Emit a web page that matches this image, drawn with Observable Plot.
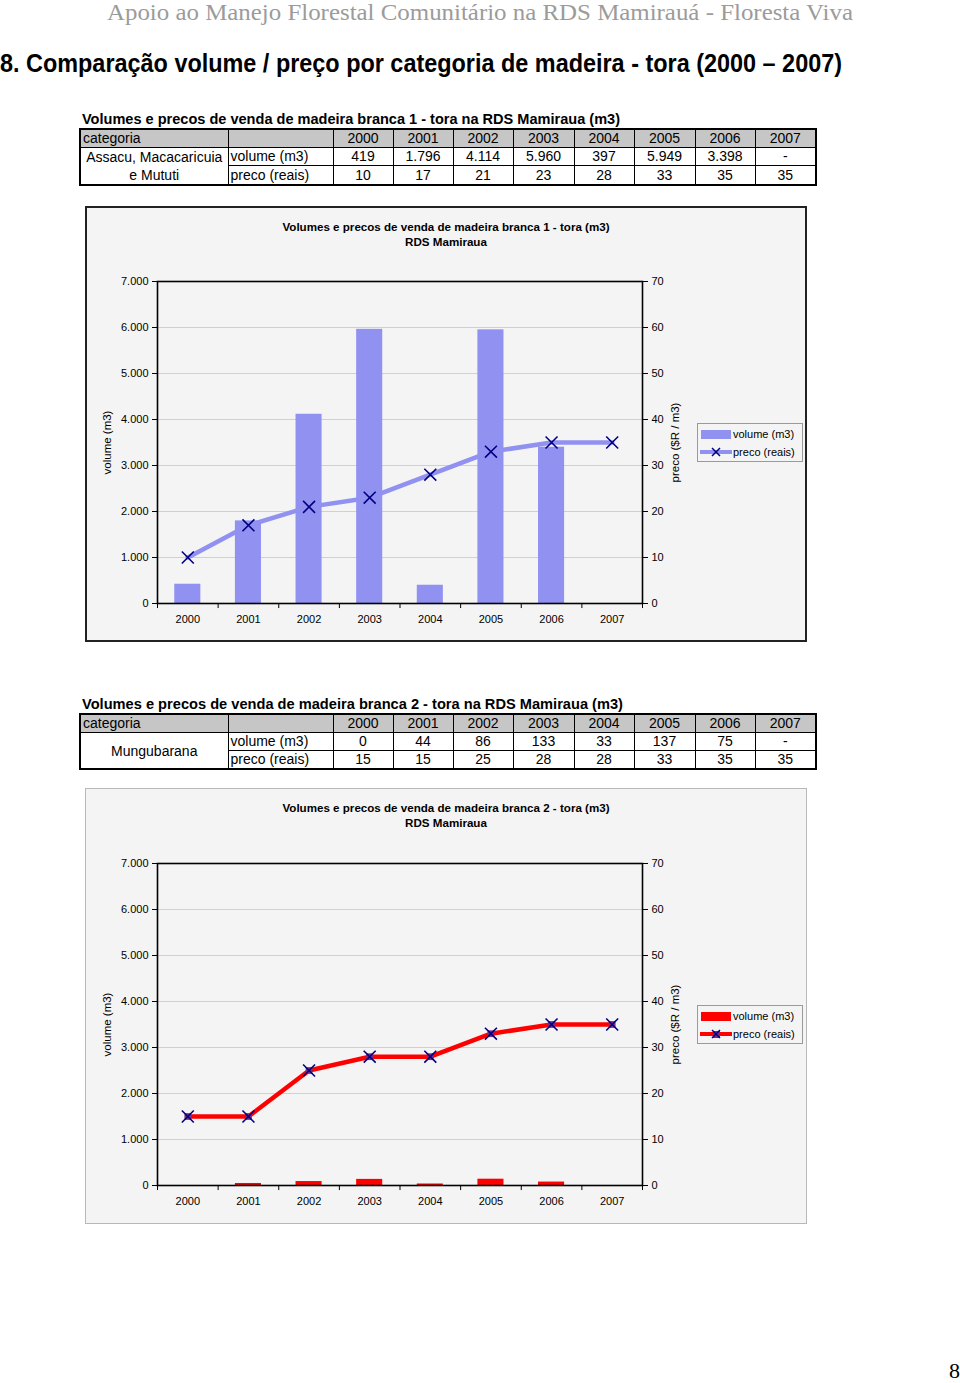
<!DOCTYPE html>
<html><head><meta charset="utf-8">
<script src="https://cdn.jsdelivr.net/npm/d3@7"></script>
<script src="https://cdn.jsdelivr.net/npm/@observablehq/plot@0.6"></script>
<style>
html,body{margin:0;padding:0;background:#fff;}
body{width:960px;height:1383px;position:relative;overflow:hidden;font-family:"Liberation Sans",Arial,sans-serif;color:#000;}
.abs{position:absolute;}
.fit{white-space:nowrap;transform-origin:0 0;display:inline-block;}
table.t{position:absolute;border-collapse:collapse;table-layout:fixed;font-size:14px;border:2px solid #000;}
table.t td{border:1px solid #000;padding:0 2px;height:17px;line-height:17px;text-align:center;overflow:hidden;white-space:nowrap;}
table.t tr.h td{background:#c6c6c6;}
table.t td.l{text-align:left;}
table.t td.m{white-space:normal;line-height:18px;vertical-align:middle;}
.frame{position:absolute;background:#f4f4f4;box-sizing:border-box;}
.ctitle{position:absolute;left:0;width:100%;text-align:center;font-size:11.6px;font-weight:bold;line-height:15px;}
.legend{position:absolute;box-sizing:border-box;border:1px solid #9a9a9a;background:#f4f4f4;font-size:11px;}
.legend .row{position:absolute;left:0;height:16px;line-height:16px;}
.legend .lab{position:absolute;left:35px;white-space:nowrap;}
</style></head><body>
<script>
// ---------- data ----------
const years = [2000, 2001, 2002, 2003, 2004, 2005, 2006, 2007];
const volume1 = [419, 1796, 4114, 5960, 397, 5949, 3398, null];
const price1 = [10, 17, 21, 23, 28, 33, 35, 35];
const volume2 = [0, 44, 86, 133, 33, 137, 75, null];
const price2 = [15, 15, 25, 28, 28, 33, 35, 35];
const volumeTicks = [0, 1000, 2000, 3000, 4000, 5000, 6000, 7000];
const priceTicks = [0, 10, 20, 30, 40, 50, 60, 70];
const rowLabels = ["volume (m3)", "preco (reais)"];
const category1Lines = ["Assacu, Macacaricuia", "e Mututi"];
const category2Lines = ["Mungubarana"];
const seriesNames = ["volume (m3)", "preco (reais)"];
const headerText = "Apoio ao Manejo Florestal Comunitário na RDS Mamirauá  - Floresta Viva";
const headingText = "8. Comparação volume / preço por categoria de madeira - tora (2000 – 2007)";
const table1Title = "Volumes e precos de venda de madeira branca 1 - tora na RDS Mamiraua (m3)";
const table2Title = "Volumes  e precos de venda de madeira branca 2 - tora na RDS Mamiraua (m3)";
const chart1Title = ["Volumes  e precos de venda de madeira branca 1 - tora (m3)", "RDS Mamiraua"];
const chart2Title = ["Volumes  e precos de venda de madeira branca 2 - tora (m3)", "RDS Mamiraua"];
const yLabelLeft = "volume (m3)";
const yLabelRight = "preco ($R / m3)";

const color1 = "#9191f1";
const color2 = "#ff0000";
const locale = d3.formatLocale({decimal: ",", thousands: ".", grouping: [3], currency: ["", ""]});
const fmt = locale.format(",");

const body = document.body;
function el(tag, cls, style, html) {
  const e = document.createElement(tag);
  if (cls) e.className = cls;
  if (style) e.style.cssText = style;
  if (html != null) e.innerHTML = html;
  return e;
}
function fitText(text, left, top, width, style) {
  const wrap = el("div", "abs", `left:${left}px;top:${top}px;`);
  const s = el("span", "fit", style);
  s.textContent = text;
  wrap.appendChild(s);
  body.appendChild(wrap);
  const w = s.getBoundingClientRect().width;
  s.style.transform = `scaleX(${width / w})`;
}

// header & heading
fitText(headerText, 107, 0, 746, "font-family:'Liberation Serif',serif;font-size:24px;color:#9b9b9b;line-height:24px;");
fitText(headingText, 0, 48, 842, "font-family:'Liberation Sans Narrow','Liberation Sans',sans-serif;font-size:25px;font-weight:bold;line-height:30px;");

// tables
function table(top, title, titleWidth, catLines, vol, price) {
  fitText(title, 82, top - 18, titleWidth, "font-size:15px;font-weight:bold;line-height:18px;");
  const widths = [148, 105, 60, 60, 60, 61, 60, 61, 60, 61];
  let h = `<colgroup>${widths.map(w => `<col style="width:${w}px">`).join("")}</colgroup>`;
  h += `<tr class="h"><td class="l">categoria</td><td></td>${years.map(y => `<td>${y}</td>`).join("")}</tr>`;
  h += `<tr><td class="m" rowspan="2">${catLines.join("<br>")}</td><td class="l">${rowLabels[0]}</td>${vol.map(v => `<td>${v == null ? "-" : fmt(v)}</td>`).join("")}</tr>`;
  h += `<tr><td class="l">${rowLabels[1]}</td>${price.map(v => `<td>${fmt(v)}</td>`).join("")}</tr>`;
  const tb = el("table", "t", `left:79px;top:${top}px;width:736px;`, h);
  body.appendChild(tb);
}
table(128, table1Title, 538, category1Lines, volume1, price1);
table(713, table2Title, 541, category2Lines, volume2, price2);

// charts
function chart(top, titleLines, vol, price, color, markerFill, borderCss) {
  const f = el("div", "frame", `left:85px;top:${top}px;width:722px;height:436px;${borderCss}`);
  body.appendChild(f);
  const ct = el("div", "ctitle", `top:11px;`, titleLines.join("<br>"));
  f.appendChild(ct);
  const data = years.map((y, i) => ({year: String(y), vol: vol[i], price: price[i]}));
  const step = 485 / years.length;
  const marks = [
    Plot.gridY(volumeTicks.slice(1, -1), {stroke: "#d0d0d0", strokeOpacity: 1}),
    Plot.barY(data.filter(d => d.vol != null && d.vol > 0), {x: "year", y: "vol", fill: color}),
    Plot.line(data, {x: "year", y: d => d.price * 100, stroke: color, strokeWidth: 4.5}),
  ];
  if (markerFill) marks.push(Plot.dot(data, {x: "year", y: d => d.price * 100, symbol: "square", r: 3.8, fill: markerFill}));
  marks.push(
    Plot.dot(data, {x: "year", y: d => d.price * 100, symbol: "times", r: 5.5, stroke: "#000080", strokeWidth: 1.6}),
    Plot.frame({stroke: "#000", strokeWidth: 1.6}),
    Plot.axisY(volumeTicks, {anchor: "left", tickSize: 5, tickPadding: 4, tickFormat: fmt, label: null}),
    Plot.axisY(priceTicks.map(d => d * 100), {anchor: "right", tickSize: 5, tickPadding: 4, tickFormat: d => fmt(d / 100), label: null}),
    Plot.axisX({tickSize: 0, tickPadding: 12, label: null}),
    Plot.ruleX(data, {x: "year", y1: 0, y2: -110, dx: -step / 2, stroke: "#000"}),
    Plot.ruleX(data.slice(-1), {x: "year", y1: 0, y2: -110, dx: step / 2, stroke: "#000"}),
    Plot.text([yLabelLeft], {frameAnchor: "left", dx: -50, rotate: -90, textAnchor: "middle", fontSize: 11.5}),
    Plot.text([yLabelRight], {frameAnchor: "right", dx: 33, rotate: -90, textAnchor: "middle", fontSize: 11.5})
  );
  const p = Plot.plot({
    width: 722, height: 436,
    marginLeft: 72, marginRight: 165, marginTop: 75, marginBottom: 39,
    style: {background: "transparent", color: "#000", fontFamily: "'Liberation Sans', Arial, sans-serif", fontSize: "11px", overflow: "visible"},
    x: {domain: years.map(String), paddingInner: 0.57, paddingOuter: 0.285, round: false},
    y: {domain: [0, 7000]},
    marks
  });
  p.style.position = "absolute";
  p.style.left = "0px";
  p.style.top = "0px";
  const wrap = el("div", "abs", `left:85px;top:${top}px;width:722px;height:436px;`);
  wrap.appendChild(p);
  body.appendChild(wrap);

  // legend
  const lg = el("div", "legend", `left:${697}px;top:${top + 217}px;width:106px;height:39px;`);
  const r1 = el("div", "row", "top:2px;width:100%;");
  r1.appendChild(el("div", "abs", `left:3px;top:4px;width:30px;height:9px;background:${color};`));
  const l1 = el("span", "lab"); l1.textContent = seriesNames[0]; r1.appendChild(l1);
  const r2 = el("div", "row", "top:20px;width:100%;");
  r2.appendChild(el("div", "abs", `left:2px;top:6px;width:32px;height:4px;background:${color};`));
  if (markerFill) r2.appendChild(el("div", "abs", `left:14.5px;top:4.5px;width:7px;height:7px;background:${markerFill};`));
  r2.insertAdjacentHTML("beforeend", `<svg class="abs" style="left:13px;top:3px" width="10" height="10"><path d="M1,1L9,9M9,1L1,9" stroke="#000080" stroke-width="1.5"/></svg>`);
  const l2 = el("span", "lab"); l2.textContent = seriesNames[1]; r2.appendChild(l2);
  lg.appendChild(r1); lg.appendChild(r2);
  body.appendChild(lg);
}
chart(206, chart1Title, volume1, price1, color1, null, "border:2px solid #222;");
chart(788, chart2Title, volume2, price2, color2, "#7d2a80", "border:1.5px solid #b8b8b8;");

// page number
const pn = el("div", "abs", "left:949px;top:1358px;font-family:'Liberation Serif',serif;font-size:22px;");
pn.textContent = "8";
body.appendChild(pn);
</script>
</body></html>
